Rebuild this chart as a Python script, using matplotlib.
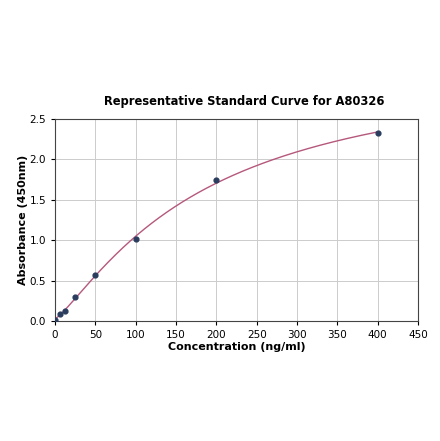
import numpy as np
import matplotlib.pyplot as plt

# Standard points
conc = np.array([0, 6.25, 12.5, 25, 50, 100, 200, 400])
absorb = np.array([0.01, 0.09, 0.13, 0.30, 0.57, 1.01, 1.74, 2.33])

xticks = [0, 50, 100, 150, 200, 250, 300, 350, 400, 450]
yticks = [0.0, 0.5, 1.0, 1.5, 2.0, 2.5]


def fit_4pl(x, y):
    """Grid over slope/midpoint, least squares for bottom/top."""
    best = None
    for b in np.linspace(0.5, 2.5, 201):
        for c in np.linspace(20, 800, 391):
            u = (x / c) ** b
            A = np.column_stack([1 / (1 + u), u / (1 + u)])
            coef, *_ = np.linalg.lstsq(A, y, rcond=None)
            err = np.sum((A @ coef - y) ** 2)
            if best is None or err < best[0]:
                best = (err, b, c, coef)
    return best[1:]


b, c, (bottom, top) = fit_4pl(conc, absorb)
xs = np.linspace(0, 400, 400)
u = (xs / c) ** b
ys = bottom / (1 + u) + top * u / (1 + u)

fig = plt.figure(figsize=(4.4, 4.41), dpi=100)
ax = fig.add_axes([0.125, 0.272, 0.825, 0.458])

ax.plot(xs, ys, color='#b5587c', lw=1.0, zorder=2)
ax.scatter(conc, absorb, s=12, color='#2b3d5e', zorder=3)

ax.set_xlim(0, 450)
ax.set_ylim(0, 2.5)
ax.set_xticks(xticks)
ax.set_yticks(yticks)
ax.tick_params(labelsize=7.5, length=3)
ax.grid(True, color='#cccccc', lw=0.7)
ax.set_axisbelow(True)
for s in ax.spines.values():
    s.set_color('#444444')
    s.set_linewidth(0.8)

ax.set_xlabel('Concentration (ng/ml)', fontsize=8, fontweight='bold', labelpad=1.5)
ax.set_ylabel('Absorbance (450nm)', fontsize=8, fontweight='bold', labelpad=1)
ax.set_title('Representative Standard Curve for A80326', fontsize=8.3,
             fontweight='bold', pad=10, x=0.52)

fig.savefig('out.png', dpi=100)
